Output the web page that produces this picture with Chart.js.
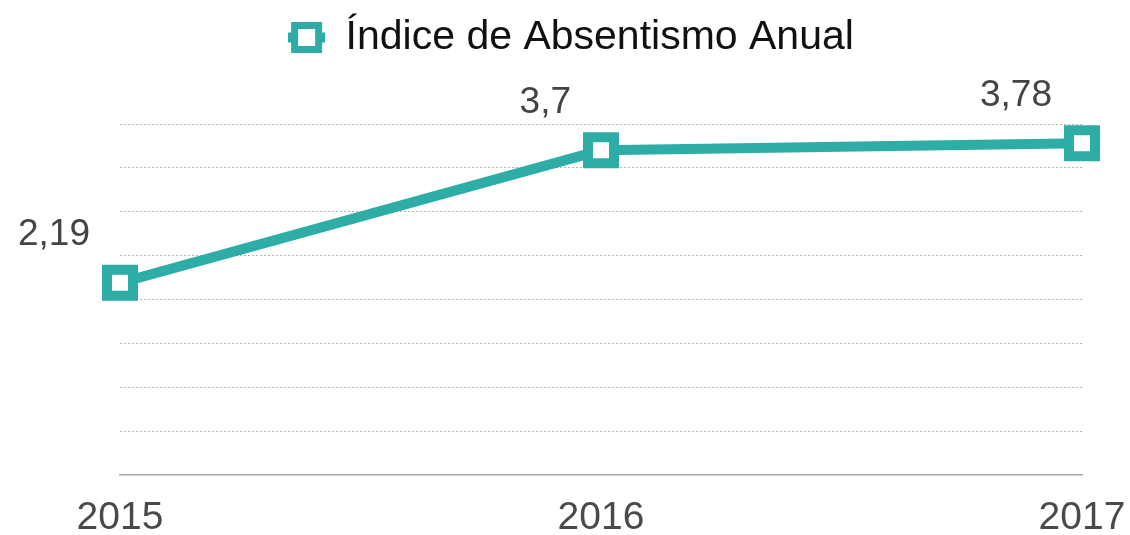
<!DOCTYPE html>
<html>
<head>
<meta charset="utf-8">
<script src="https://cdn.jsdelivr.net/npm/chart.js@4"></script>
<style>
  html, body { margin: 0; padding: 0; background: #fff; }
  #wrap { width: 1130px; height: 535px; }
</style>
</head>
<body>
<div id="wrap"><canvas id="canvas" width="1130" height="535"></canvas></div>
<script>
const years = ['2015', '2016', '2017']
const absentismo = [2.19, 3.7, 3.78]
const valueLabels = ['2,19', '3,7', '3,78']
const teal = '#2eada6'

// legend marker: little square with line stubs
const legendIcon = document.createElement('canvas')
legendIcon.width = 37
legendIcon.height = 31
const ic = legendIcon.getContext('2d')
ic.fillStyle = teal
ic.fillRect(0, 10.5, 37, 10)
ic.fillRect(3, 0, 31, 31)
ic.fillStyle = '#fff'
ic.fillRect(10, 7, 17, 17)

// draws the value text up-left of every point
const valueLabelPlugin = {
  id: 'valueLabels',
  afterDatasetsDraw(chart) {
    const ctx = chart.ctx
    const meta = chart.getDatasetMeta(0)
    ctx.save()
    ctx.font = '37px "Liberation Sans", Arial, sans-serif'
    ctx.fillStyle = '#444'
    ctx.textAlign = 'right'
    ctx.textBaseline = 'middle'
    meta.data.forEach((pt, i) => {
      ctx.fillText(valueLabels[i], pt.x - 30, pt.y - 48)
    })
    ctx.restore()
  }
}

// extra room under the legend
const legendGap = {
  id: 'legendGap',
  beforeInit(chart) {
    const fit = chart.legend.fit
    chart.legend.fit = function () {
      fit.bind(chart.legend)()
      this.height += 56
    }
  }
}

const ctx = document.getElementById('canvas').getContext('2d')
const myChart = new Chart(ctx, {
  type: 'line',
  data: {
    labels: years,
    datasets: [{
      label: 'Índice de Absentismo Anual',
      data: absentismo,
      borderColor: teal,
      backgroundColor: '#fff',
      borderWidth: 10,
      pointStyle: 'rect',
      pointRadius: 18.4,
      pointBorderWidth: 10,
      pointBackgroundColor: '#fff',
      pointBorderColor: teal,
      tension: 0,
      clip: false
    }]
  },
  options: {
    responsive: false,
    animation: false,
    layout: { padding: { left: 60, right: 48, top: 0, bottom: 0 } },
    plugins: {
      legend: {
        labels: {
          font: { family: '"Liberation Sans", Arial, sans-serif', size: 41 },
          color: '#111',
          usePointStyle: true,
          boxWidth: 37,
          boxHeight: 31,
          padding: 17,
          generateLabels(chart) {
            const items = Chart.defaults.plugins.legend.labels.generateLabels(chart)
            items.forEach(item => { item.pointStyle = legendIcon })
            return items
          }
        }
      },
      tooltip: { enabled: false }
    },
    scales: {
      x: {
        grid: { display: false },
        border: { color: '#aaa', width: 1.5 },
        afterFit(scale) {
          scale.height = 60
          scale.paddingLeft = 0
          scale.paddingRight = 0
        },
        ticks: {
          font: { family: '"Liberation Sans", Arial, sans-serif', size: 39 },
          color: '#4d4948',
          padding: 12,
          maxRotation: 0
        }
      },
      y: {
        min: 0,
        max: 4,
        afterFit(scale) { scale.width = 60 },
        ticks: { display: false, stepSize: 0.5 },
        grid: {
          color: c => c.tick.value === 0 ? 'transparent' : '#b5b5b5',
          lineWidth: 1,
          drawTicks: false
        },
        border: { display: false, dash: [2, 2] }
      }
    }
  },
  plugins: [valueLabelPlugin, legendGap]
})
</script>
</body>
</html>
